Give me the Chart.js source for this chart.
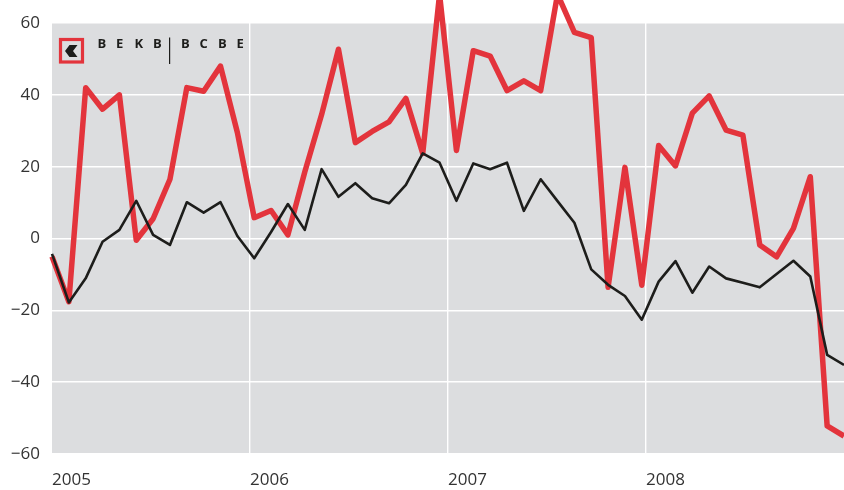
<!DOCTYPE html>
<html>
<head>
<meta charset="utf-8">
<script src="https://cdn.jsdelivr.net/npm/chart.js@4.4.1/dist/chart.umd.min.js"></script>
<style>
  html, body { margin: 0; padding: 0; background: #ffffff; }
  #wrap { position: relative; width: 844px; height: 490px; }
</style>
</head>
<body>
<div id="wrap"><canvas id="chart" width="844" height="490"></canvas></div>
<script>
// DATA (monthly, Jan 2005 - Dec 2008)
const yearLabels = ["2005", "2006", "2007", "2008"];

const redSeries = [
  -5, -17.6, 42, 36, 40, -0.5, 5.5, 16.5, 42, 41, 48, 29.5,
  5.8, 7.8, 1, 18.5, 34.5, 52.7, 26.7, 29.8, 32.5, 39, 23.7, 68,
  24.5, 52.3, 50.8, 41.2, 43.9, 41.2, 68, 57.4, 55.9, -13.6, 19.8, -13,
  25.9, 20.2, 34.9, 39.7, 30.2, 28.8, -1.8, -5.1, 2.8, 17.2, -52.2, -55
];

const blackSeries = [
  -4.3, -17.8, -11.1, -0.9, 2.4, 10.5, 1, -1.8, 10.1, 7.2, 10.1, 0.7,
  -5.5, 1.8, 9.6, 2.4, 19.3, 11.6, 15.4, 11.2, 9.8, 14.9, 23.7, 21.1,
  10.5, 20.9, 19.3, 21.1, 7.7, 16.5, 10.4, 4.4, -8.6, -12.9, -16, -22.6,
  -12, -6.3, -15.1, -7.8, -11.1, -12.3, -13.6, -9.9, -6.2, -10.6, -32.4, -35.2
];

const yTicks = [-60, -40, -20, 0, 20, 40, 60];

const lastIdx = redSeries.length - 1;
const toPoints = arr => arr.map((v, i) => ({ x: i, y: v }));

// plot background + logo
const decor = {
  id: 'decor',
  beforeDraw(chart) {
    const { ctx, chartArea: a } = chart;
    ctx.save();
    ctx.fillStyle = '#dcdddf';
    ctx.fillRect(a.left, a.top, a.right - a.left, a.bottom - a.top);
    ctx.restore();
  },
  afterDraw(chart) {
    const ctx = chart.ctx;
    ctx.save();
    // red box
    ctx.strokeStyle = '#e3343c';
    ctx.lineWidth = 3.2;
    ctx.strokeRect(60.5, 39.5, 22, 22.5);
    // black chevron
    ctx.fillStyle = '#1d1d1b';
    ctx.beginPath();
    ctx.moveTo(65, 51);
    ctx.lineTo(69.5, 45);
    ctx.lineTo(77.5, 45);
    ctx.lineTo(73, 51);
    ctx.lineTo(77.5, 57);
    ctx.lineTo(69.5, 57);
    ctx.closePath();
    ctx.fill();
    // text
    ctx.font = 'bold 13px "Open Sans"';
    ctx.textBaseline = 'middle';
    ctx.textAlign = 'left';
    "BEKB".split('').forEach((c, k) => ctx.fillText(c, 97.5 + k * 18.5, 44));
    "BCBE".split('').forEach((c, k) => ctx.fillText(c, 181 + k * 18.5, 44));
    ctx.fillRect(169, 37.5, 1.2, 26.5);
    ctx.restore();
  }
};

new Chart(document.getElementById('chart'), {
  type: 'line',
  data: {
    datasets: [
      {
        data: toPoints(blackSeries),
        borderColor: '#1d1d1b',
        borderWidth: 2.6,
        borderJoinStyle: 'round',
        pointRadius: 0,
        tension: 0,
        clip: false
      },
      {
        data: toPoints(redSeries),
        borderColor: '#e3343c',
        borderWidth: 5.5,
        borderJoinStyle: 'round',
        pointRadius: 0,
        tension: 0,
        clip: false
      }
    ]
  },
  options: {
    responsive: false,
    animation: false,
    events: [],
    layout: { padding: { top: 23, left: 0, right: 0, bottom: 0 } },
    plugins: { legend: { display: false }, tooltip: { enabled: false } },
    scales: {
      x: {
        type: 'linear',
        min: 0,
        max: lastIdx,
        afterBuildTicks: s => {
          s.ticks = yearLabels.map((_, k) => ({ value: k * lastIdx / yearLabels.length }));
        },
        afterFit: s => { s.height = 36; },
        border: { display: false },
        grid: {
          color: c => (c.index === 0 ? 'rgba(0,0,0,0)' : '#ffffff'),
          lineWidth: 1.4,
          drawTicks: false
        },
        ticks: {
          align: 'start',
          maxRotation: 0,
          padding: 16,
          color: '#333333',
          font: { family: 'Open Sans', size: 17 },
          callback: (v, i) => yearLabels[i]
        }
      },
      y: {
        min: -60,
        max: 60,
        afterBuildTicks: s => { s.ticks = yTicks.map(v => ({ value: v })); },
        afterFit: s => { s.width = 52; },
        border: { display: false },
        grid: { color: '#ffffff', lineWidth: 1.4, drawTicks: false },
        ticks: {
          padding: 12,
          color: '#333333',
          font: { family: 'Open Sans', size: 17 },
          callback: v => (v < 0 ? '\u2212' + Math.abs(v) : String(v))
        }
      }
    }
  },
  plugins: [decor]
});
</script>
</body>
</html>
